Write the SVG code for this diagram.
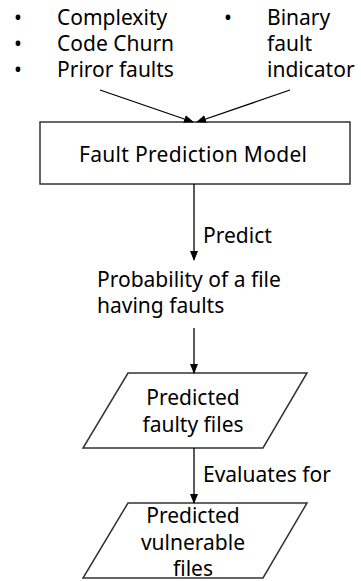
<svg xmlns="http://www.w3.org/2000/svg" width="361" height="581" viewBox="0 0 361 581">
<style>
text{font-family:"Noto Sans","Open Sans",sans-serif;font-size:21px;fill:#000}
.box{fill:#fff;stroke:#333;stroke-width:1.5}
.ln{stroke:#000;stroke-width:1.3;fill:none}
</style>
<defs>
<marker id="ah" markerWidth="10" markerHeight="10" refX="9" refY="5" orient="auto" markerUnits="userSpaceOnUse">
<path d="M0,1 L10,5 L0,9 Z" fill="#000"/>
</marker>
</defs>
<rect width="361" height="581" fill="#fff"/>
<g id="inputs-left">
<text x="14" y="25">•</text><text x="57" y="25">Complexity</text>
<text x="14" y="51">•</text><text x="57" y="51">Code Churn</text>
<text x="14" y="77">•</text><text x="57" y="77">Priror faults</text>
</g>
<g id="inputs-right">
<text x="224" y="25">•</text><text x="267" y="25">Binary</text>
<text x="267" y="51">fault</text>
<text x="267" y="77">indicator</text>
</g>
<g id="model">
<rect class="box" x="40" y="122" width="310" height="62"/>
<text x="193" y="162" text-anchor="middle" textLength="228">Fault Prediction Model</text>
</g>
<g id="probability">
<text x="97" y="287">Probability of a file</text>
<text x="97" y="313">having faults</text>
</g>
<g id="faulty">
<polygon class="box" points="128,373 307,373 263,448 83,448"/>
<text x="193" y="405" text-anchor="middle">Predicted</text>
<text x="193" y="432" text-anchor="middle">faulty files</text>
</g>
<g id="vulnerable">
<polygon class="box" points="128,503 307,503 263,578 83,578"/>
<text x="193" y="523" text-anchor="middle">Predicted</text>
<text x="193" y="550" text-anchor="middle">vulnerable</text>
<text x="193" y="576" text-anchor="middle">files</text>
</g>
<g id="connectors">
<line class="ln" x1="100" y1="90" x2="193" y2="122" marker-end="url(#ah)"/>
<line class="ln" x1="290" y1="90" x2="197" y2="122" marker-end="url(#ah)"/>
<line class="ln" x1="194" y1="184" x2="194" y2="260" marker-end="url(#ah)"/>
<text x="203" y="243">Predict</text>
<line class="ln" x1="194" y1="328" x2="194" y2="373" marker-end="url(#ah)"/>
<line class="ln" x1="194" y1="448" x2="194" y2="503" marker-end="url(#ah)"/>
<text x="203" y="482">Evaluates for</text>
</g>
</svg>
